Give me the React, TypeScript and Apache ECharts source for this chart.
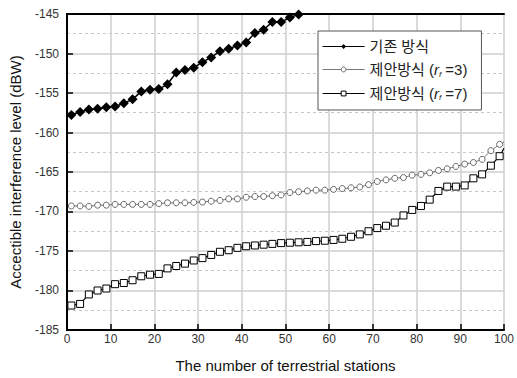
import React, { useEffect, useRef } from "react";
import * as echarts from "echarts";

// x positions of the markers (odd station counts)
const xOdd = [1,3,5,7,9,11,13,15,17,19,21,23,25,27,29,31,33,35,37,39,41,43,45,47,49,51,53,55,57,59,61,63,65,67,69,71,73,75,77,79,81,83,85,87,89,91,93,95,97,99];

// 기존 방식 (goes out of the top of the plot after x≈53)
const conventional = [-157.8,-157.4,-157.1,-157.0,-156.8,-156.7,-156.3,-155.8,-154.8,-154.6,-154.5,-153.9,-152.4,-152.1,-151.8,-151.1,-150.5,-149.7,-149.4,-149.0,-148.6,-147.4,-147.0,-146.0,-146.0,-145.45,-145.05,-144.6];

// 제안방식 (r_f = 3)
const proposed3 = [-169.3,-169.3,-169.35,-169.2,-169.2,-169.1,-169.1,-169.1,-169.1,-169.1,-169.0,-168.9,-168.9,-168.9,-168.85,-168.8,-168.7,-168.6,-168.4,-168.4,-168.2,-168.1,-168.1,-168.0,-167.9,-167.6,-167.5,-167.4,-167.3,-167.3,-167.2,-167.1,-167.0,-166.9,-166.6,-166.2,-166.0,-165.8,-165.7,-165.4,-165.3,-165.1,-164.8,-164.6,-164.3,-164.0,-163.8,-163.4,-162.3,-161.5];
const proposed3End = -161.2;

// 제안방식 (r_f = 7)
const proposed7 = [-181.9,-181.7,-180.5,-180.0,-179.75,-179.2,-179.05,-178.7,-178.2,-178.0,-177.9,-177.2,-176.9,-176.6,-176.2,-175.9,-175.5,-175.1,-174.9,-174.6,-174.4,-174.3,-174.2,-174.1,-174.0,-173.95,-173.9,-173.85,-173.75,-173.7,-173.6,-173.45,-173.2,-172.9,-172.5,-172.1,-171.8,-171.4,-170.5,-169.8,-169.3,-168.5,-167.4,-166.85,-166.85,-166.7,-165.8,-165.3,-164.2,-163.0];
const proposed7End = -162.0;

const endX = 100;
const seriesNames = ["기존 방식", "제안방식 (r_f =3)", "제안방식 (r_f =7)"];
const xTicks = { min: 0, max: 100, interval: 10 };
const yTicks = { min: -185, max: -145, interval: 5 };

const FONT = "'Liberation Sans', Arial, 'Noto Sans CJK KR', sans-serif";

function pairs(ys: number[]) {
  return ys.map((y, i) => [xOdd[i], y]);
}

export default function App() {
  const ref = useRef<HTMLDivElement>(null);
  useEffect(() => {
    if (!ref.current) return;
    const chart = echarts.init(ref.current, undefined, { renderer: "svg" });
    const frameAxis = {
      axisLine: { show: true, lineStyle: { color: "#000", width: 2 } },
      axisTick: { show: false },
      axisLabel: { show: false },
      splitLine: { show: false },
    };
    chart.setOption({
      animation: false,
      textStyle: { fontFamily: FONT },
      grid: { left: 64, right: 11, top: 14, bottom: 41 },
      legend: {
        orient: "vertical",
        left: 318,
        top: 31,
        width: 166,
        padding: [8, 14, 8, 4],
        itemGap: 7,
        itemWidth: 42,
        itemHeight: 6,
        backgroundColor: "#fff",
        borderColor: "#555",
        borderWidth: 1,
        lineStyle: { width: 1.2 },
        data: [
          { name: seriesNames[0], itemStyle: { color: "#000", borderWidth: 0 } },
          { name: seriesNames[1], itemStyle: { color: "#fff", borderColor: "#666", borderWidth: 1 } },
          { name: seriesNames[2], itemStyle: { color: "#fff", borderColor: "#000", borderWidth: 1 } },
        ],
        formatter: (name: string) => {
          if (name === seriesNames[0]) return "{t|기존 방식}";
          const v = name === seriesNames[1] ? "3" : "7";
          return "{t|제안방식 (}{i|r}{s|f}{t| =" + v + ")}";
        },
        textStyle: {
          fontFamily: FONT,
          fontSize: 15,
          color: "#222",
          rich: {
            t: { fontFamily: FONT, fontSize: 15, color: "#222", lineHeight: 17 },
            i: { fontFamily: FONT, fontSize: 15, fontStyle: "italic", color: "#222", lineHeight: 17 },
            s: { fontFamily: FONT, fontSize: 8, fontStyle: "italic", color: "#222", padding: [9, 0, 0, 0], lineHeight: 17 },
          },
        },
      },
      xAxis: [
        {
          type: "value",
          min: xTicks.min,
          max: xTicks.max,
          interval: xTicks.interval,
          name: "The number of terrestrial stations",
          nameLocation: "middle",
          nameGap: 28,
          nameTextStyle: { fontFamily: FONT, fontSize: 15, color: "#111" },
          axisLine: { show: true, onZero: false, lineStyle: { color: "#000", width: 2 } },
          axisTick: { show: true, inside: true, length: 6, lineStyle: { color: "#000", width: 1.5 } },
          axisLabel: { fontFamily: FONT, fontSize: 12, color: "#333", margin: 3 },
          splitLine: { show: true, lineStyle: { color: "#cfcfcf", width: 1.5 } },
        },
        { type: "value", position: "top", min: xTicks.min, max: xTicks.max, ...frameAxis },
      ],
      yAxis: [
        {
          type: "value",
          min: yTicks.min,
          max: yTicks.max,
          interval: yTicks.interval,
          name: "Accectible interference level (dBW)",
          nameLocation: "middle",
          nameGap: 44,
          nameTextStyle: { fontFamily: FONT, fontSize: 15, color: "#111" },
          axisLine: { show: true, onZero: false, lineStyle: { color: "#000", width: 2 } },
          axisTick: { show: true, inside: true, length: 6, lineStyle: { color: "#000", width: 1.5 } },
          axisLabel: { fontFamily: FONT, fontSize: 12, color: "#333", margin: 8 },
          splitLine: { show: true, lineStyle: { color: "#cfcfcf", width: 1.5 } },
          minorTick: { show: false, splitNumber: 2 },
          minorSplitLine: { show: true, lineStyle: { color: "#c8c8c8", type: [3, 3], width: 1 } },
        },
        { type: "value", position: "right", min: yTicks.min, max: yTicks.max, ...frameAxis },
      ],
      series: [
        {
          name: seriesNames[2],
          type: "line",
          z: 3,
          data: [...pairs(proposed7), { value: [endX, proposed7End], symbol: "none" }],
          symbol: "rect",
          symbolSize: 7,
          showAllSymbol: true,
          clip: true,
          lineStyle: { color: "#000", width: 1.2 },
          itemStyle: { color: "#fff", borderColor: "#000", borderWidth: 1 },
        },
        {
          name: seriesNames[1],
          type: "line",
          z: 4,
          data: [...pairs(proposed3), { value: [endX, proposed3End], symbol: "none" }],
          symbol: "circle",
          symbolSize: 6,
          showAllSymbol: true,
          clip: true,
          lineStyle: { color: "#777", width: 1 },
          itemStyle: { color: "#fff", borderColor: "#666", borderWidth: 1 },
        },
        {
          name: seriesNames[0],
          type: "line",
          z: 5,
          data: pairs(conventional),
          symbol: "diamond",
          symbolSize: 10,
          showAllSymbol: true,
          clip: true,
          lineStyle: { color: "#000", width: 1.5 },
          itemStyle: { color: "#000", borderColor: "#000", borderWidth: 0 },
        },
      ],
    });
    return () => chart.dispose();
  }, []);
  return (
    <div
      ref={ref}
      style={{ position: "fixed", left: 0, top: 0, width: 517, height: 378, background: "#fff" }}
    />
  );
}
